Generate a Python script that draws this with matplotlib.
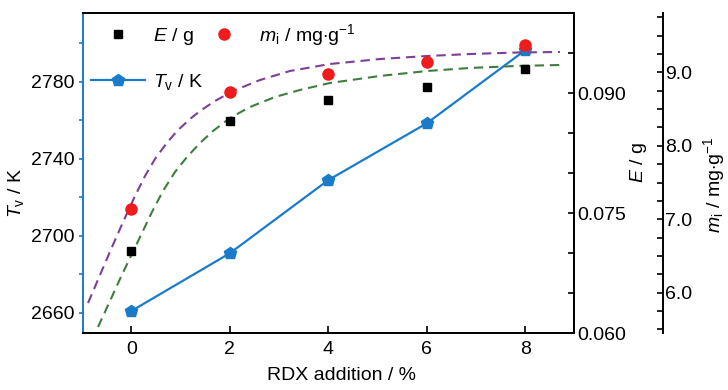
import matplotlib
matplotlib.use("Agg")
import matplotlib.pyplot as plt
from matplotlib.ticker import FixedLocator, MultipleLocator, FormatStrFormatter
from matplotlib.lines import Line2D

plt.rcParams['font.family'] = ['Liberation Sans', 'DejaVu Sans']
plt.rcParams['mathtext.fontset'] = 'custom'
plt.rcParams['mathtext.rm'] = 'Liberation Sans'
plt.rcParams['mathtext.it'] = 'Liberation Sans:italic'
plt.rcParams['font.size'] = 14

# ---- data ----
rdx = [0, 2, 4, 6, 8]
tv = [2661, 2691, 2729, 2758.5, 2796.5]
e_g = [0.0702, 0.0865, 0.0891, 0.0907, 0.0930]
m_i = [7.14, 8.74, 8.98, 9.14, 9.37]

# dashed fit curves
mi_fit_x = [-0.878, -0.635, -0.391, -0.148, 0.076, 0.279, 0.482, 0.705, 0.929, 1.193, 1.396,
            1.700, 2.066, 2.614, 3.223, 4.033, 5.051, 6.005, 6.878, 7.832, 8.705]
mi_fit_y = [5.859, 6.240, 6.622, 6.990, 7.317, 7.589, 7.821, 8.025, 8.202, 8.366, 8.475,
            8.611, 8.747, 8.897, 9.020, 9.115, 9.183, 9.224, 9.251, 9.272, 9.279]
e_fit_x = [-0.675, -0.432, -0.229, -0.026, 0.198, 0.421, 0.644, 0.888, 1.132, 1.396, 1.660,
           2.005, 2.411, 2.919, 3.426, 4.035, 5.050, 6.005, 6.878, 7.832, 8.705]
e_fit_y = [0.06075, 0.0640, 0.06675, 0.06938, 0.07225, 0.07513, 0.07775, 0.08013, 0.0820,
           0.08375, 0.08525, 0.08688, 0.08825, 0.0895, 0.09038, 0.09125, 0.09213, 0.09275,
           0.09313, 0.09338, 0.0935]

tv_ticks = [2660, 2700, 2740, 2780]
e_ticks = [0.060, 0.075, 0.090]
mi_ticks = [6.0, 7.0, 8.0, 9.0]
x_ticks = [0, 2, 4, 6, 8]

blue = '#1a7cc9'
red = '#ee1c1c'
purple = '#7e3f96'
green = '#3e7d3e'

fig = plt.figure(figsize=(7.28, 3.9), dpi=100)
ax = fig.add_axes([83/728, 1-333/390, 491/728, 320/390])
ax2 = ax.twinx()
ax3 = ax.twinx()
ax3.spines['right'].set_position(('axes', (662.7-83)/491))

# T_v
ax.plot(rdx, tv, color=blue, lw=1.6, marker='p', ms=9, mfc=blue, mec=blue, zorder=3)
ax.set_xlim(-0.98, 8.99)
ax.set_ylim(2649.6, 2815.8)
ax.yaxis.set_major_locator(FixedLocator(tv_ticks))
ax.yaxis.set_minor_locator(MultipleLocator(20))
ax.xaxis.set_major_locator(FixedLocator(x_ticks))

# E
ax2.plot(e_fit_x, e_fit_y, color=green, lw=1.5, ls=(0, (4.5, 2.8)))
ax2.plot(rdx, e_g, ls='none', marker='s', ms=6, color='black')
ax2.set_ylim(0.06, 0.10)
ax2.yaxis.set_major_locator(FixedLocator(e_ticks))
ax2.yaxis.set_minor_locator(MultipleLocator(0.005))
ax2.yaxis.set_major_formatter(FormatStrFormatter('%.3f'))

# m_i
ax3.plot(mi_fit_x, mi_fit_y, color=purple, lw=1.5, ls=(0, (4.5, 2.8)))
ax3.plot(rdx, m_i, ls='none', marker='o', ms=8, color=red)
ax3.set_ylim(5.45, 9.81)
ax3.yaxis.set_major_locator(FixedLocator(mi_ticks))
ax3.yaxis.set_minor_locator(MultipleLocator(0.25))
ax3.yaxis.set_major_formatter(FormatStrFormatter('%.1f'))

# spines
for a in (ax, ax2, ax3):
    for s in a.spines.values():
        s.set_linewidth(1.4)
ax.spines['left'].set_color(blue)
ax.spines['top'].set_color('black')
ax.spines['top'].set_visible(True)
ax3.spines['top'].set_visible(False)
ax3.spines['left'].set_visible(False)
ax3.spines['bottom'].set_visible(False)
ax2.spines['left'].set_visible(False)

ax.tick_params(axis='y', which='both', direction='out', length=3, width=1.2, color=blue, pad=3, labelsize=14)
ax.tick_params(axis='x', which='both', direction='in', length=5, width=1.2, pad=6, labelsize=14)
ax2.tick_params(axis='y', which='both', direction='in', length=4, width=1.2, pad=2, labelsize=14)
ax3.tick_params(axis='y', which='both', direction='in', length=4, width=1.2, pad=2, labelsize=14)

# labels
ax.set_xlabel('RDX addition / %', fontsize=14)
ax.xaxis.set_label_coords((341-83)/491, (333-376)/320)
ax.xaxis.label.set_va('center')
ax.set_ylabel(r'$T_{\rm v}$ / K', fontsize=14, va='center', ha='center')
ax.yaxis.set_label_coords((16-83)/491, (333-193)/320)
ax2.set_ylabel(r'$E$ / g', fontsize=14, va='center', ha='center')
ax2.yaxis.set_label_coords((638-83)/491, (333-163)/320)
ax3.set_ylabel(r'$m_{\rm i}$ / mg$\cdot$g$^{-1}$', fontsize=14, va='center', ha='center')
ax3.yaxis.set_label_coords((714-83)/491, (333-185)/320)

# legend
h_e = Line2D([], [], ls='none', marker='s', ms=6, color='black')
h_tv = Line2D([], [], color=blue, lw=1.6, marker='p', ms=9, mfc=blue, mec=blue)
h_mi = Line2D([], [], ls='none', marker='o', ms=8, color=red)
ax3.legend([h_e, h_tv, h_mi],
           [r'$E$ / g', r'$T_{\rm v}$ / K', r'$m_{\rm i}$ / mg$\cdot$g$^{-1}$'],
           ncol=2, frameon=False, loc='upper left', bbox_to_anchor=(0.016, 0.972),
           borderpad=0, borderaxespad=0, handlelength=2.8, handletextpad=0.4,
           columnspacing=-0.35, labelspacing=1.3, numpoints=1, fontsize=14)

fig.savefig('out.png', dpi=100)
